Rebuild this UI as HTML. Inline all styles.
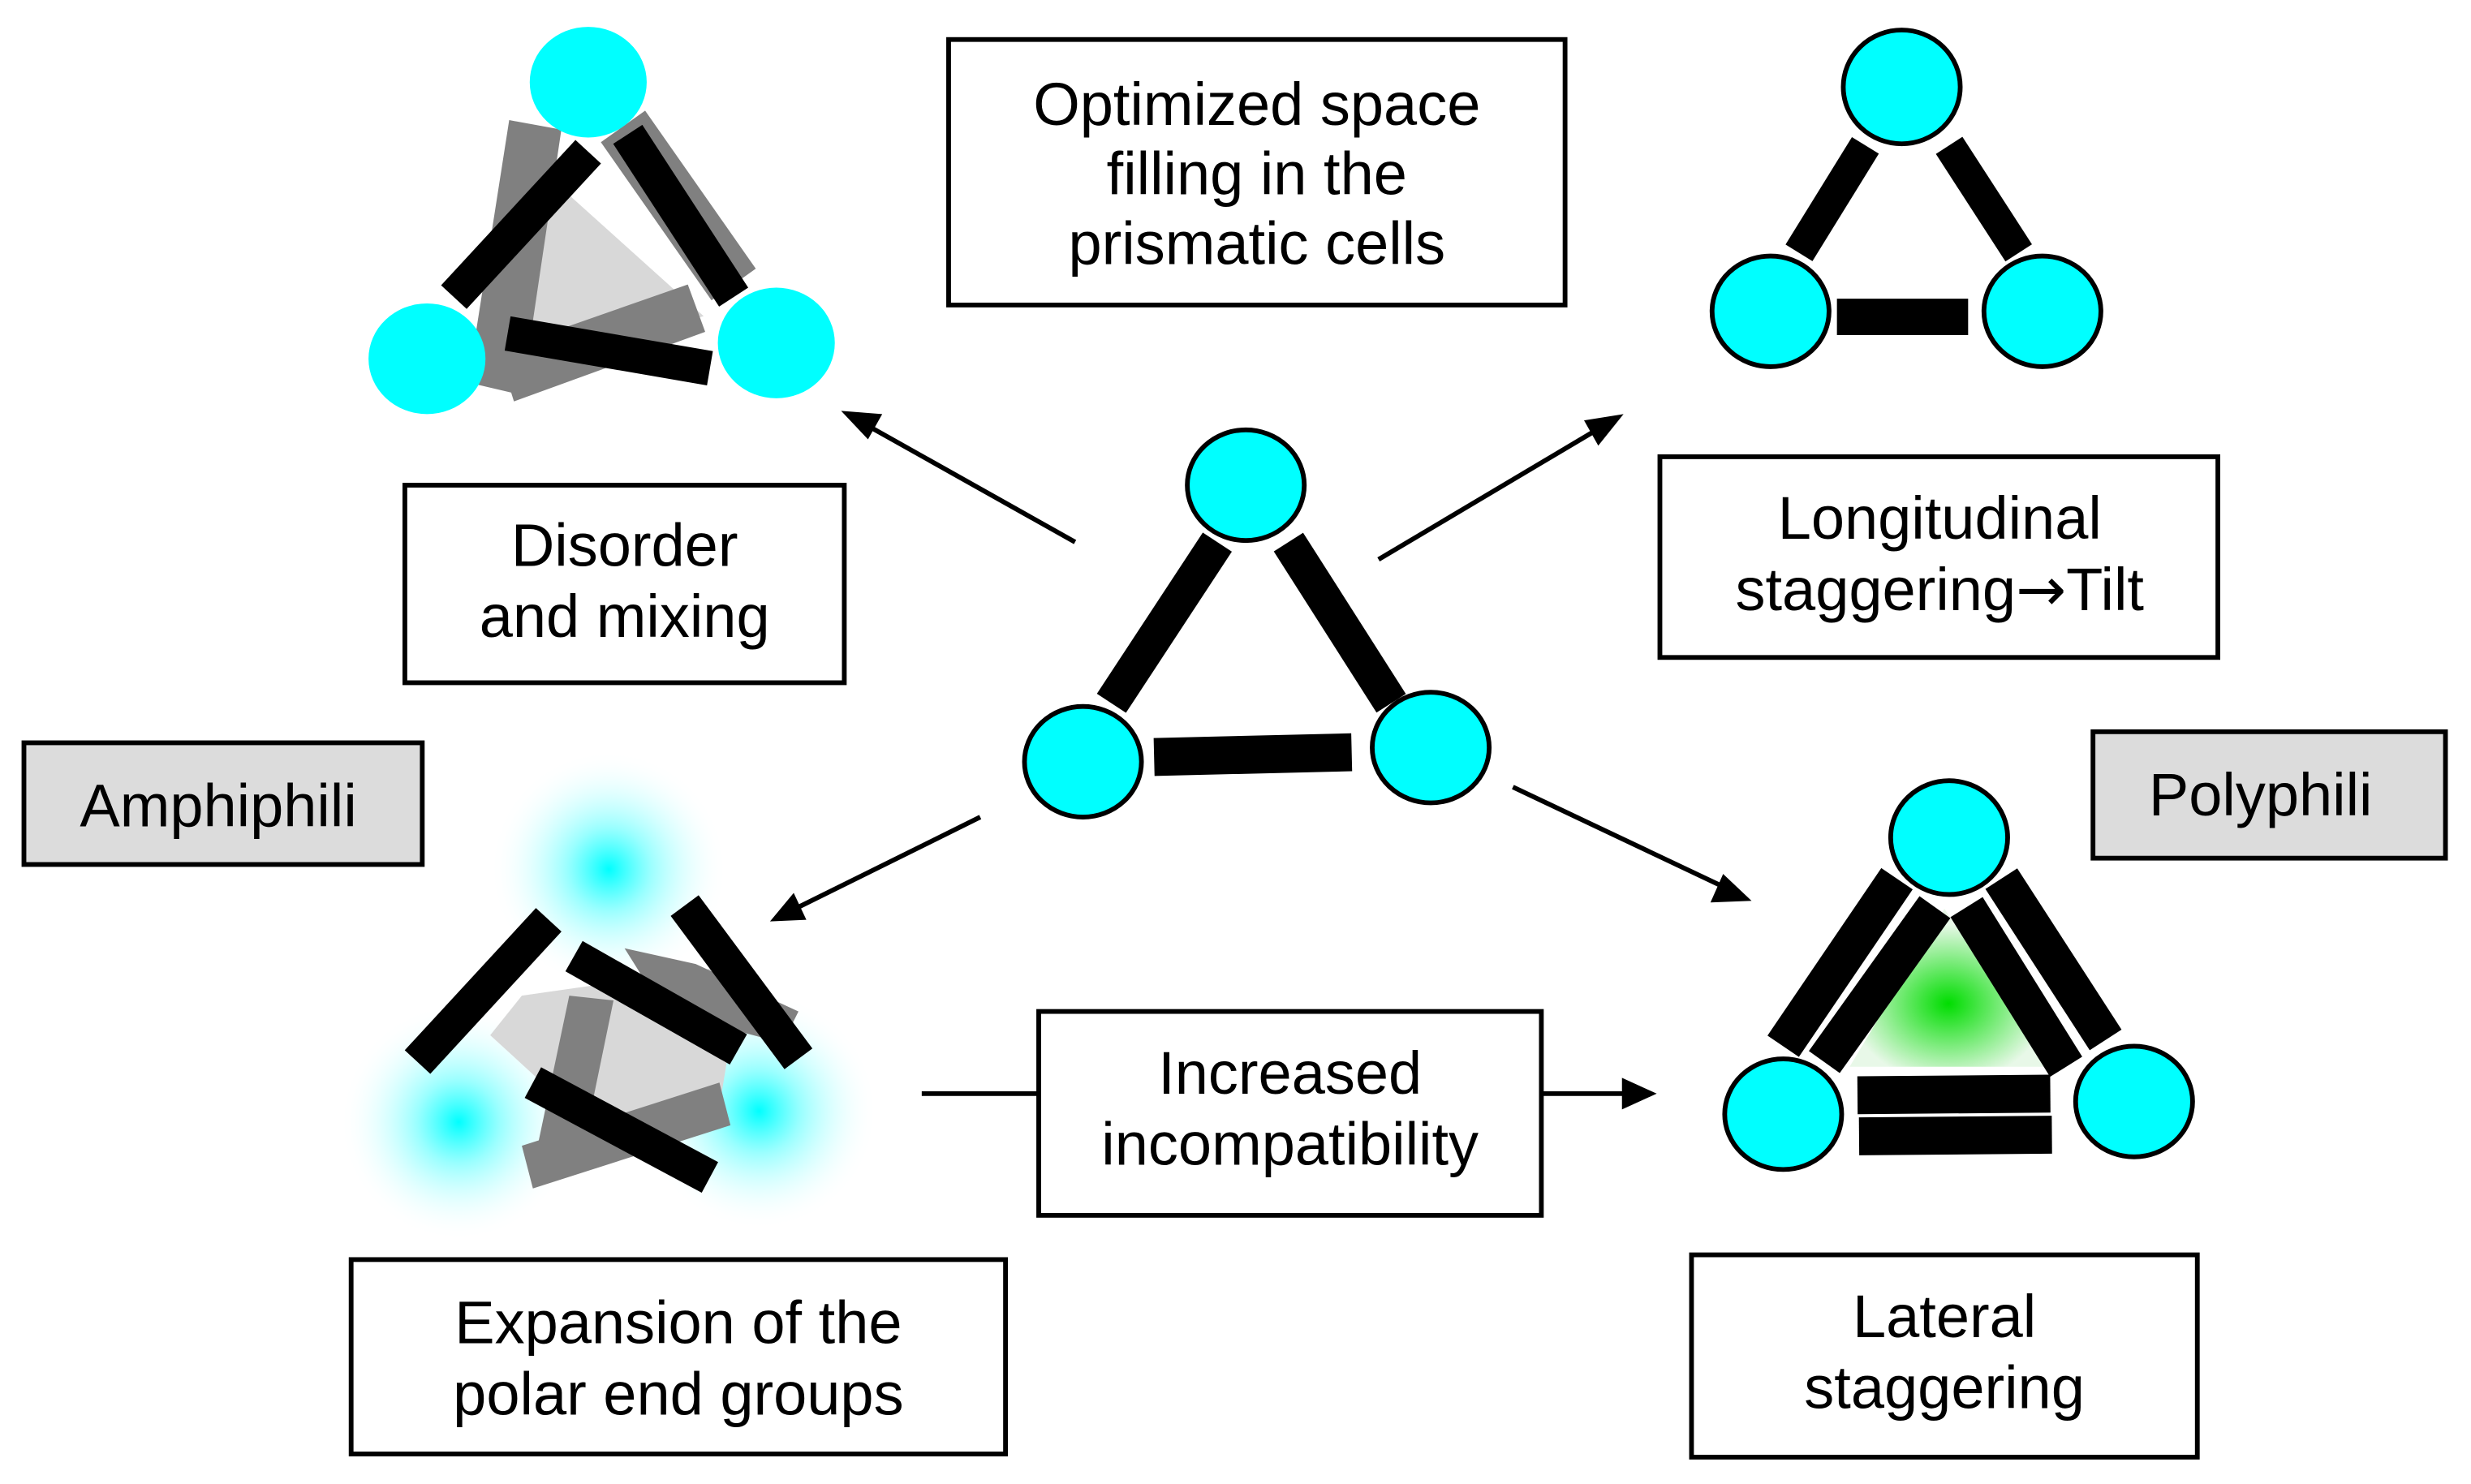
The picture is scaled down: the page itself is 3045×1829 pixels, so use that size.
<!DOCTYPE html>
<html><head><meta charset="utf-8"><style>
html,body{margin:0;padding:0;background:#fff;}
svg{display:block;}
text{font-family:"Liberation Sans",Arial,sans-serif;font-size:38px;fill:#000;text-anchor:middle;}
</style></head><body>
<svg width="3045" height="1829" viewBox="0 0 1563 939" xmlns="http://www.w3.org/2000/svg">
<defs>
<radialGradient id="glow"><stop offset="0" stop-color="#00ffff"/><stop offset="0.35" stop-color="#80ffff" stop-opacity="0.8"/><stop offset="1" stop-color="#ffffff" stop-opacity="0"/></radialGradient>
<radialGradient id="green" cx="0.5" cy="0.6" r="0.5"><stop offset="0" stop-color="#00dd00"/><stop offset="1" stop-color="#e8f8e8"/></radialGradient>
</defs>

<g fill="#fff" stroke="#000" stroke-width="3">
<rect x="600" y="25" width="390" height="168"/>
<rect x="256" y="307" width="278" height="125"/>
<rect x="1050" y="289" width="353" height="127"/>
<rect x="657" y="640" width="318" height="129"/>
<rect x="222" y="797" width="414" height="123"/>
<rect x="1070" y="794" width="320" height="128"/>
<rect x="15" y="470" width="252" height="77" fill="#dcdcdc"/>
<rect x="1324" y="463" width="223" height="80" fill="#dcdcdc"/>
</g>
<text x="795" y="79">Optimized space</text>
<text x="795" y="123">filling in the</text>
<text x="795" y="167">prismatic cells</text>
<text x="395" y="358">Disorder</text>
<text x="395" y="403">and mixing</text>
<text x="1227" y="341">Longitudinal</text>
<text x="1227" y="386">staggering<tspan font-family="DejaVu Sans">→</tspan>Tilt</text>
<text x="816" y="692">Increased</text>
<text x="816" y="737">incompatibility</text>
<text x="429" y="850">Expansion of the</text>
<text x="429" y="895">polar end groups</text>
<text x="1230" y="846">Lateral</text>
<text x="1230" y="891">staggering</text>
<text x="138" y="523">Amphiphili</text>
<text x="1430" y="516">Polyphili</text>

<g stroke="#000" stroke-width="3">
<line x1="680" y1="343" x2="550" y2="270"/>
<line x1="872" y1="354" x2="1010" y2="272"/>
<line x1="620" y1="517" x2="505" y2="574"/>
<line x1="957" y1="498" x2="1090" y2="561"/>
<line x1="583" y1="692" x2="657" y2="692"/>
<line x1="975" y1="692" x2="1030" y2="692"/>
</g>
<g fill="#000">
<polygon points="532,260 558,262 549,278"/>
<polygon points="1027,262 1011,282 1002,266"/>
<polygon points="487,583 502,565 510,582"/>
<polygon points="1108,570 1082,571 1090,553"/>
<polygon points="1048,692 1026,682 1026,702"/>
</g>

<g stroke="#000" stroke-width="3" fill="#00ffff">
<ellipse cx="788" cy="307" rx="37" ry="35"/>
<ellipse cx="685" cy="482" rx="37" ry="35"/>
<ellipse cx="905" cy="473" rx="37" ry="35"/>
</g>
<g stroke="#000" stroke-linecap="butt">
<line x1="703" y1="445" x2="770" y2="343" stroke-width="22"/>
<line x1="815" y1="343" x2="880" y2="445" stroke-width="22"/>
<line x1="730" y1="479" x2="855" y2="476" stroke-width="24"/>
</g>

<g stroke="#000" stroke-width="3" fill="#00ffff">
<ellipse cx="1203" cy="55" rx="37" ry="36"/>
<ellipse cx="1120" cy="197" rx="37" ry="35"/>
<ellipse cx="1292" cy="197" rx="37" ry="35"/>
</g>
<g stroke="#000">
<line x1="1138" y1="160" x2="1180" y2="92" stroke-width="20"/>
<line x1="1233" y1="92" x2="1277" y2="160" stroke-width="20"/>
<rect x="1162" y="189" width="83" height="23" fill="#000" stroke="none"/>
</g>

<polygon points="345,110 445,200 330,235" fill="#d8d8d8"/>
<g fill="#808080">
<polygon points="322,76 355,82 330,250 296,242"/>
<polygon points="380,90 408,70 478,170 450,190"/>
<polygon points="315,222 435,180 446,210 325,254"/>
</g>
<g fill="#00ffff">
<ellipse cx="372" cy="52" rx="37" ry="35"/>
<ellipse cx="270" cy="227" rx="37" ry="35"/>
<ellipse cx="491" cy="217" rx="37" ry="35"/>
</g>
<g stroke="#000">
<line x1="287" y1="188" x2="372" y2="96" stroke-width="22"/>
<line x1="397" y1="85" x2="464" y2="188" stroke-width="22"/>
<line x1="321" y1="211" x2="449" y2="233" stroke-width="22"/>
</g>

<circle cx="385" cy="550" r="75" fill="url(#glow)"/>
<circle cx="290" cy="710" r="75" fill="url(#glow)"/>
<circle cx="480" cy="703" r="75" fill="url(#glow)"/>
<polygon points="330,630 470,610 455,700 370,710 310,655" fill="#d8d8d8"/>
<g fill="#808080">
<polygon points="360,630 388,633 368,730 340,725"/>
<polygon points="395,600 440,610 505,640 495,660 420,640"/>
<polygon points="330,725 455,685 462,712 337,752"/>
</g>
<g stroke="#000">
<line x1="264" y1="672" x2="347" y2="582" stroke-width="22"/>
<line x1="433" y1="573" x2="505" y2="670" stroke-width="22"/>
<line x1="363" y1="605" x2="467" y2="664" stroke-width="22"/>
<line x1="337" y1="685" x2="449" y2="745" stroke-width="22"/>
</g>

<polygon points="1230,575 1295,675 1170,675" fill="url(#green)"/>
<g stroke="#000" stroke-width="3" fill="#00ffff">
<ellipse cx="1233" cy="530" rx="37" ry="36"/>
<ellipse cx="1128" cy="705" rx="37" ry="35"/>
<ellipse cx="1350" cy="697" rx="37" ry="35"/>
</g>
<g stroke="#000" stroke-width="24">
<line x1="1128" y1="662" x2="1200" y2="556"/>
<line x1="1154" y1="672" x2="1224" y2="574"/>
<line x1="1244" y1="574" x2="1307" y2="675"/>
<line x1="1266" y1="556" x2="1332" y2="658"/>
<line x1="1175" y1="693" x2="1297" y2="692"/>
<line x1="1176" y1="719" x2="1298" y2="718"/>
</g>
</svg>
</body></html>
